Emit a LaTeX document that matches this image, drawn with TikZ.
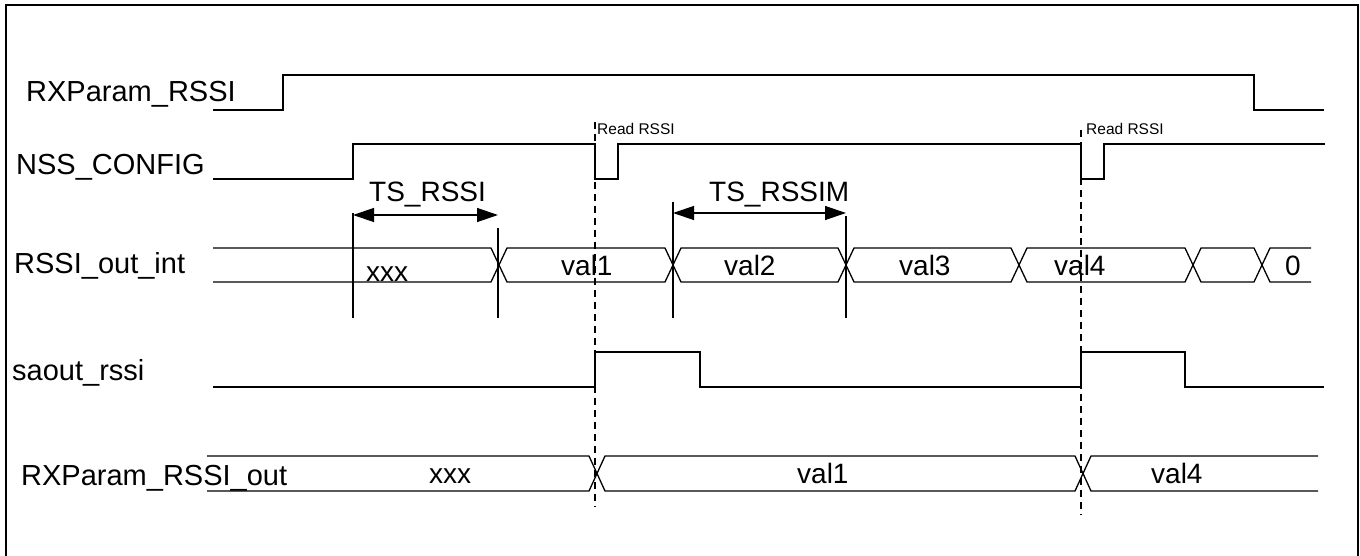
\documentclass[tikz,border=0pt]{standalone}
\usepackage{fontspec}
\setmainfont{Liberation Sans}
\usetikzlibrary{arrows.meta}
\begin{document}
\begin{tikzpicture}[x=1pt,y=-1pt,
  sig/.style={line width=1.3pt, line join=miter},
  frame/.style={line width=2pt},
  guide/.style={line width=1.2pt, dash pattern=on 7pt off 5pt},
  tick/.style={line width=1.3pt},
  dimline/.style={line width=1.3pt, {Triangle[length=21pt,width=14pt]}-{Triangle[length=21pt,width=14pt]}},
  lbl/.style={anchor=base west, inner sep=0pt, font=\fontsize{29}{32}\selectfont},
  val/.style={anchor=base west, inner sep=0pt, font=\fontsize{28}{32}\selectfont},
  small/.style={anchor=base west, inner sep=0pt, font=\fontsize{15.5}{18}\selectfont}]
\useasboundingbox (0,0) rectangle (1360,556);
% frame (open at the bottom)
\draw[frame] (6,556) -- (6,5) -- (1358,5) -- (1358,556);

% signal names
\node[lbl] (nRX) at (26,102) {RXParam\_RSSI};
\node[lbl] (nNSS) at (16,175) {NSS\_CONFIG};
\node[lbl] (nINT) at (14,273) {RSSI\_out\_int};
\node[lbl] (nSA) at (12,380) {saout\_rssi};
\node[lbl] (nOUT) at (21,485) {RXParam\_RSSI\_out};

% RXParam_RSSI
\draw[sig] (213,110) -- (283,110) -- (283,75) -- (1254,75) -- (1254,110) -- (1324,110);
% NSS_CONFIG
\draw[sig] (213,179) -- (353,179) -- (353,144) -- (595,144) -- (595,179) -- (618,179) -- (618,144)
  -- (1081,144) -- (1081,179) -- (1104,179) -- (1104,144) -- (1325,144);
\node[small] (rd1) at (597,135) {Read RSSI};
\node[small] (rd2) at (1086,135) {Read RSSI};

% RSSI_out_int bus
\draw[sig] (213,248) -- (491,248) -- (507,282) -- (665,282) -- (681,248) -- (838,248) -- (854,282)
  -- (1011,282) -- (1027,248) -- (1185,248) -- (1201,282) -- (1254,282) -- (1270,248) -- (1311,248);
\draw[sig] (213,282) -- (491,282) -- (507,248) -- (665,248) -- (681,282) -- (838,282) -- (854,248)
  -- (1011,248) -- (1027,282) -- (1185,282) -- (1201,248) -- (1254,248) -- (1270,282) -- (1311,282);
\node[val] (v0) at (366,281) {xxx};
\node[val] (v1) at (561,275) {val1};
\node[val] (v2) at (724,275) {val2};
\node[val] (v3) at (899,275) {val3};
\node[val] (v4) at (1054,275) {val4};
\node[val] (v5) at (1285,275) {0};

% timing marks
\coordinate (a1) at (353,213); \coordinate (a1b) at (353,318);
\coordinate (a2) at (498,228); \coordinate (a2b) at (498,318);
\coordinate (b1) at (673,202); \coordinate (b1b) at (673,318);
\coordinate (b2) at (846,216); \coordinate (b2b) at (846,318);
\draw[tick] (a1) -- (a1b);
\draw[tick] (a2) -- (a2b);
\draw[tick] (b1) -- (b1b);
\draw[tick] (b2) -- (b2b);
\coordinate (d1a) at (353,215); \coordinate (d1b) at (498,215);
\coordinate (d2a) at (673,213); \coordinate (d2b) at (846,213);
\draw[dimline] (d1a) -- (d1b);
\draw[dimline] (d2a) -- (d2b);
\node[val] (ts1) at (369,202) {TS\_RSSI};
\node[val] (ts2) at (709,202) {TS\_RSSIM};

% saout_rssi
\draw[sig] (213,387) -- (595,387) -- (595,352) -- (700,352) -- (700,387) -- (1081,387) -- (1081,352)
  -- (1185,352) -- (1185,387) -- (1324,387);

% RXParam_RSSI_out bus
\draw[sig] (207,456) -- (589,456) -- (605,491) -- (1075,491) -- (1091,456) -- (1318,456);
\draw[sig] (207,491) -- (589,491) -- (605,456) -- (1075,456) -- (1091,491) -- (1318,491);
\node[val] (w0) at (429,483) {xxx};
\node[val] (w1) at (797,483) {val1};
\node[val] (w4) at (1151,483) {val4};

% read markers
\coordinate (g1a) at (595,122); \coordinate (g1b) at (595,507);
\coordinate (g2a) at (1081,130); \coordinate (g2b) at (1081,515);
\draw[guide] (g1a) -- (g1b);
\draw[guide] (g2a) -- (g2b);
\end{tikzpicture}
\end{document}
